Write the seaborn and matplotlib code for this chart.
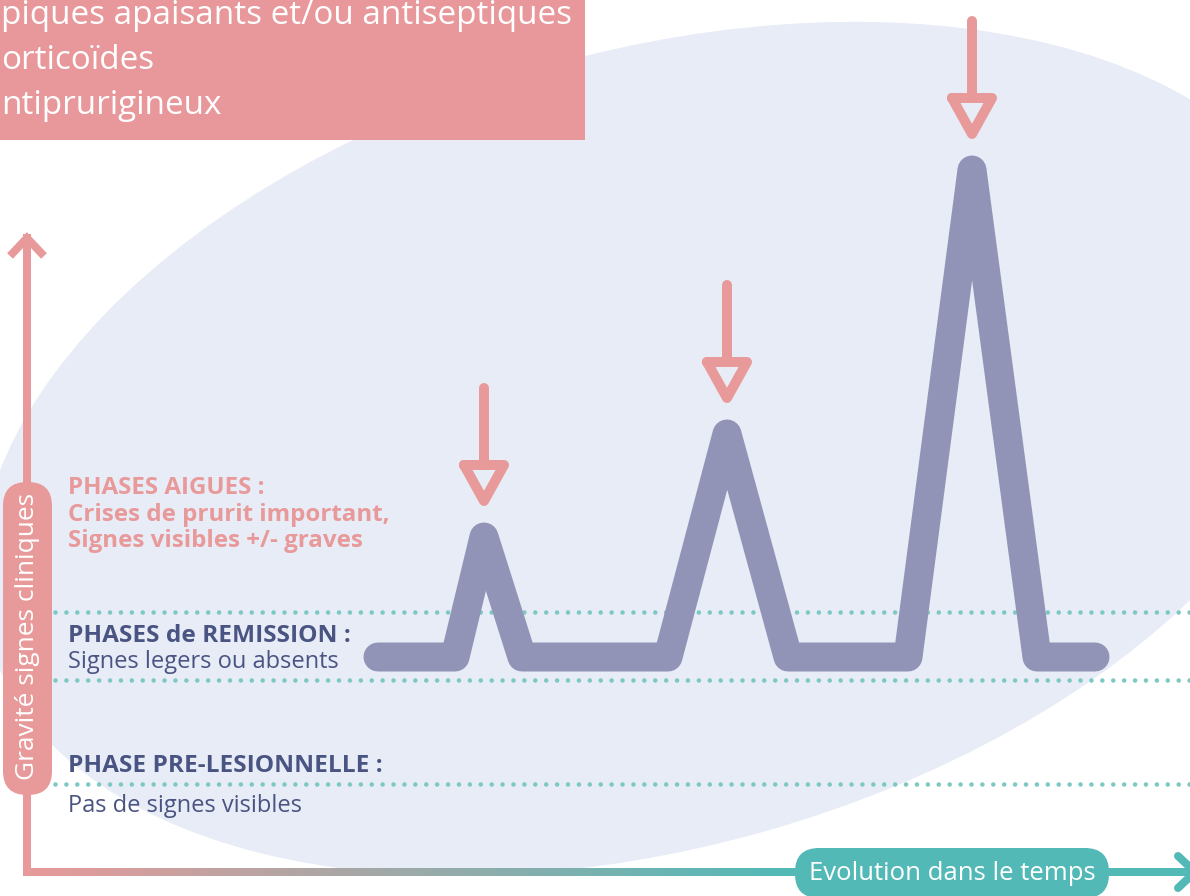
import numpy as np
import matplotlib
matplotlib.use("Agg")
import matplotlib.pyplot as plt
from matplotlib.patches import Ellipse, Rectangle, FancyBboxPatch
from matplotlib.collections import LineCollection
from matplotlib.colors import to_rgb
import seaborn as sns

# ---------------- data ----------------
time_pts = [378, 455, 484, 522, 668, 727, 788, 908, 972, 1037, 1095]
severity = [239, 239, 359, 239, 239, 462, 239, 239, 726, 239, 239]
peak_index = [2, 5, 8]
level_lines = [284, 216, 112]          # dotted separators between phases

box_lines = ["piques apaisants et/ou antiseptiques", "orticoïdes", "ntiprurigineux"]
acute_lines = ["PHASES AIGUES :", "Crises de prurit important,", "Signes visibles +/- graves"]
remission_title = "PHASES de REMISSION :"
remission_text = "Signes legers ou absents"
pre_title = "PHASE PRE-LESIONNELLE :"
pre_text = "Pas de signes visibles"
y_label = "Gravité signes cliniques"
x_label = "Evolution dans le temps"

# visible edge of the pale background ellipse (pixel positions traced on the picture)
blob_x = [383, 580, 883, 1086, 1190, 1190, 1133, 1073, 841, 713, 600, 400, 300, 200, 52, 0, 83, 167]
blob_y = [140, 58, 7, 55, 107, 590, 640, 700, 820, 850, 863, 867, 853, 833, 750, 417, 337, 270]

# ---------------- style ----------------
PINK = "#e8999a"
BOX_PINK = "#e8979a"
TEAL = "#52b9b6"
DOT = "#7cc9c4"
PURPLE = "#9294b7"
NAVY = "#4a5482"
BLOB = "#e8ecf6"

sns.set_theme(style="white")
plt.rcParams["font.family"] = ["Open Sans", "DejaVu Sans"]

W, H = 1190, 896
fig = plt.figure(figsize=(W / 100, H / 100), dpi=100)
ax = fig.add_axes([0, 0, 1, 1])
ax.set_xlim(0, W)
ax.set_ylim(0, H)
ax.axis("off")

def Y(py):  # pixel row -> data y
    return H - py

PX = 72 / 100  # pixel -> points

# background ellipse fitted to the traced edge (simple pattern search)
ex, ey = np.array(blob_x, float), np.array(blob_y, float)

def ell_err(p):
    cx, cy, a, b, th = p
    c, s = np.cos(th), np.sin(th)
    dx, dy = ex - cx, ey - cy
    u = dx * c - dy * s
    v = dx * s + dy * c
    q = (u / a) ** 2 + (v / b) ** 2
    return float(np.sum((np.sqrt(q) - 1) ** 2))

p = np.array([640.0, 440.0, 690.0, 400.0, np.radians(16)])
step = np.array([20.0, 20.0, 20.0, 20.0, np.radians(3)])
best = ell_err(p)
for _ in range(400):
    improved = False
    for i in range(5):
        for sgn in (1, -1):
            q = p.copy()
            q[i] += sgn * step[i]
            e = ell_err(q)
            if e < best:
                best, p, improved = e, q, True
    if not improved:
        step *= 0.5
        if step[0] < 0.2:
            break
cx, cy, a, b, th = p
ax.add_patch(Ellipse((cx, Y(cy)), 2 * a, 2 * b, angle=np.degrees(th),
                     color=BLOB, zorder=0, lw=0))

# top-left pink box
ax.add_patch(Rectangle((-10, Y(140)), 595, 160, color=BOX_PINK, zorder=1, lw=0))
box_texts = []
for i, s in enumerate(box_lines):
    box_texts.append(ax.text(1, Y(24 + 45 * i), s, color="white", fontsize=22,
                             ha="left", va="baseline", zorder=6))

# dotted phase separators
for lv in level_lines:
    ax.plot([55, W + 5], [lv, lv], color=DOT, lw=4.6 * PX,
            linestyle=(0, (0.001, 10.9 / 4.6)), dash_capstyle="round", zorder=2)

# disease course line
sns.lineplot(x=time_pts, y=severity, sort=False, estimator=None, color=PURPLE,
             linewidth=29 * PX, solid_capstyle="round", solid_joinstyle="round",
             ax=ax, zorder=3, legend=False)

# treatment arrows above each flare
for k in peak_index:
    xp, yp = time_pts[k], severity[k]
    tip = yp + 36
    top = tip + 36
    ax.plot([xp, xp], [top, tip + 113], color=PINK, lw=10 * PX,
            solid_capstyle="round", zorder=4)
    ax.plot([xp - 20, xp + 20, xp, xp - 20], [top, top, tip, top], color=PINK,
            lw=10 * PX, solid_joinstyle="round", solid_capstyle="round", zorder=4)

# axes
AX_LW = 8 * PX
ax.plot([27, 27], [Y(872), Y(238)], color=PINK, lw=AX_LW, solid_capstyle="projecting", zorder=2)
ax.plot([10, 27, 44], [Y(256), Y(238), Y(256)], color=PINK, lw=AX_LW,
        solid_joinstyle="miter", solid_capstyle="butt", zorder=2)
xs = np.linspace(27, W + 5, 300)
c0, c1 = np.array(to_rgb(PINK)), np.array(to_rgb(TEAL))
segs, cols = [], []
for x0, x1 in zip(xs[:-1], xs[1:]):
    t = np.clip(((x0 + x1) / 2 - 27) / (780 - 27), 0, 1)
    segs.append([(x0, Y(872)), (x1 + 0.5, Y(872))])
    cols.append(c0 * (1 - t) + c1 * t)
ax.add_collection(LineCollection(segs, colors=cols, linewidths=AX_LW, zorder=2, capstyle="butt"))
ax.plot([1178, 1195, 1178], [Y(856), Y(872), Y(888)], color=TEAL, lw=AX_LW,
        solid_joinstyle="miter", zorder=2)

# axis label pills
ax.add_patch(FancyBboxPatch((3, Y(795)), 49, 313, boxstyle="round,pad=0,rounding_size=24",
                            color=PINK, lw=0, zorder=5))
ylab = ax.text(27.5, Y(636), y_label, rotation=90, color="white", fontsize=19,
               ha="center", va="center", zorder=6)
ax.add_patch(FancyBboxPatch((795, Y(898)), 314, 50, boxstyle="round,pad=0,rounding_size=24",
                            color=TEAL, lw=0, zorder=5))
xlab = ax.text(952, Y(873), x_label, color="white", fontsize=19,
               ha="center", va="center", zorder=6)

# phase annotations
acute = [ax.text(68, Y(bl), s, color=PINK, fontsize=16, fontweight="bold",
                 ha="left", va="baseline", zorder=6)
         for s, bl in zip(acute_lines, [494, 521, 547])]
t_rem = ax.text(68, Y(642), remission_title, color=NAVY, fontsize=16, fontweight="bold",
                ha="left", va="baseline", zorder=6)
t_pre = ax.text(68, Y(772), pre_title, color=NAVY, fontsize=16, fontweight="bold",
                ha="left", va="baseline", zorder=6)
r_rem = ax.text(68, Y(668), remission_text, color=NAVY, fontsize=16,
                ha="left", va="baseline", zorder=6)
r_pre = ax.text(68, Y(812), pre_text, color=NAVY, fontsize=16,
                ha="left", va="baseline", zorder=6)

# scale text groups so their widths match the reference
fig.canvas.draw()
rend = fig.canvas.get_renderer()

def fit_group(texts, targets, vertical=False):
    ratios = []
    for t, w in zip(texts, targets):
        bb = t.get_window_extent(renderer=rend)
        ratios.append(w / (bb.height if vertical else bb.width))
    r = float(np.mean(ratios))
    for t in texts:
        t.set_fontsize(t.get_fontsize() * r)

fit_group([box_texts[0]], [569])
for t in box_texts[1:]:
    t.set_fontsize(box_texts[0].get_fontsize())
fit_group([acute[1], acute[0]], [314, 202])
for t in acute[2:]:
    t.set_fontsize(acute[1].get_fontsize())
fit_group([t_rem, t_pre], [282, 314])
fit_group([r_rem, r_pre], [272, 234])
fit_group([ylab], [286], vertical=True)
fit_group([xlab], [287])

fig.savefig("out.png", dpi=100)
